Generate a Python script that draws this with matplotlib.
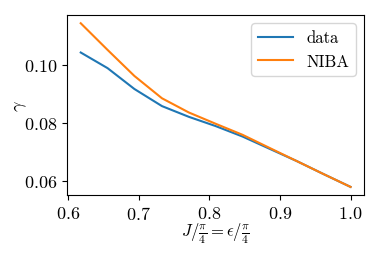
import numpy as np
import matplotlib
matplotlib.use("Agg")
import matplotlib.pyplot as plt

plt.rcParams["font.family"] = "serif"
plt.rcParams["font.serif"] = ["cmr10"]
plt.rcParams["mathtext.fontset"] = "cm"
plt.rcParams["axes.formatter.use_mathtext"] = True
plt.rcParams["font.size"] = 13

# J/(pi/4) values and decay rates
x = [0.618, 0.656, 0.694, 0.733, 0.771, 0.809, 0.847, 0.885, 0.924, 0.962, 1.0]
gamma_data = [0.1043, 0.0989, 0.0917, 0.0858, 0.0821, 0.0789, 0.0753, 0.0711, 0.0668, 0.0623, 0.0579]
gamma_niba = [0.1144, 0.1052, 0.0962, 0.0885, 0.0836, 0.0797, 0.0759, 0.0714, 0.0668, 0.0623, 0.0579]

fig, ax = plt.subplots(figsize=(3.82, 2.55), dpi=100)
ax.plot(x, gamma_data, label="data")
ax.plot(x, gamma_niba, label="NIBA")

ax.set_xticks([0.6, 0.7, 0.8, 0.9, 1.0])
ax.set_yticks([0.06, 0.08, 0.10])
ax.set_xlabel(r"$J/\frac{\pi}{4}=\epsilon/\frac{\pi}{4}$", fontsize=12)
ax.set_ylabel(r"$\gamma$")
ax.xaxis.set_label_coords(0.5, -0.14)
ax.yaxis.set_label_coords(-0.13, 0.5)
ax.legend(loc="upper right", fontsize=12, handlelength=2.1)

fig.subplots_adjust(left=0.176, right=0.953, top=0.937, bottom=0.231)
fig.savefig("out.png")
